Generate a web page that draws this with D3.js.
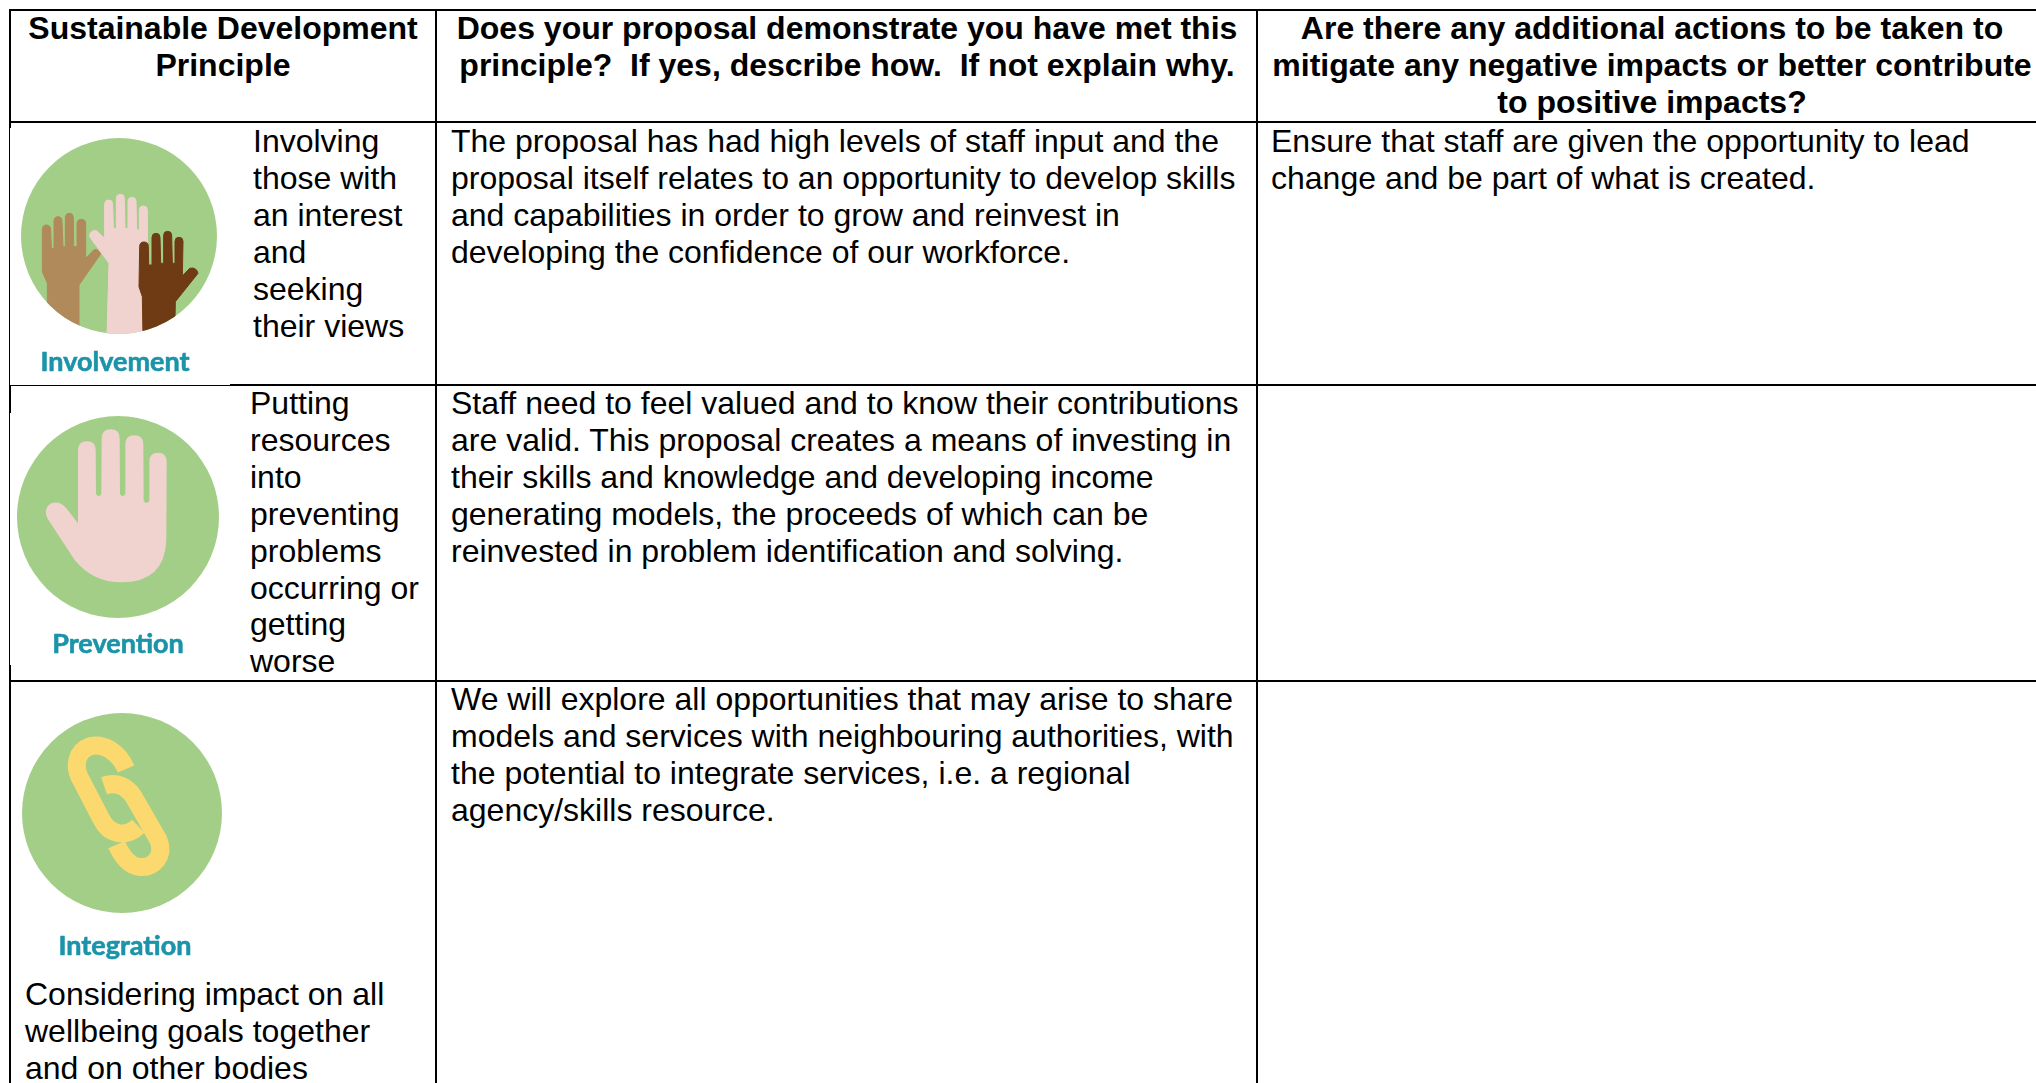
<!DOCTYPE html>
<html>
<head>
<meta charset="utf-8">
<script src="https://cdnjs.cloudflare.com/ajax/libs/d3/7.8.5/d3.min.js"></script>
<style>
html, body { margin: 0; padding: 0; background: #fff; overflow: hidden; }
text { font-family: "Liberation Sans", Arial, sans-serif; font-size: 32px; fill: #000; }
.head { font-weight: bold; }
.label { font-family: Lato, sans-serif; font-weight: 700; font-size: 27px; fill: #1b93a9; stroke: #1b93a9; stroke-width: 0.6px; }
</style>
</head>
<body>
<div id="chart"></div>
<script>
const columns = ["principle", "proposal", "actions"];

const headers = [
    ["Sustainable Development", "Principle"],
    ["Does your proposal demonstrate you have met this", "principle?  If yes, describe how.  If not explain why."],
    ["Are there any additional actions to be taken to", "mitigate any negative impacts or better contribute", "to positive impacts?"]
];

const rowNames = ["involvement", "prevention", "integration"];
const iconLabels = ["Involvement", "Prevention", "Integration"];

const principleText = [
    ["Involving", "those with", "an interest", "and", "seeking", "their views"],
    ["Putting", "resources", "into", "preventing", "problems", "occurring or", "getting", "worse"],
    ["Considering impact on all", "wellbeing goals together", "and on other bodies"]
];

const proposalText = [
    ["The proposal has had high levels of staff input and the", "proposal itself relates to an opportunity to develop skills", "and capabilities in order to grow and reinvest in", "developing the confidence of our workforce."],
    ["Staff need to feel valued and to know their contributions", "are valid. This proposal creates a means of investing in", "their skills and knowledge and developing income", "generating models, the proceeds of which can be", "reinvested in problem identification and solving."],
    ["We will explore all opportunities that may arise to share", "models and services with neighbouring authorities, with", "the potential to integrate services, i.e. a regional", "agency/skills resource."]
];

const actionsText = [
    ["Ensure that staff are given the opportunity to lead", "change and be part of what is created."],
    [],
    []
];

const width = 2036, height = 1083;
const lineH = 36.9;

const svg = d3.select("#chart").append("svg")
    .attr("width", width)
    .attr("height", height)
    .style("display", "block");

// table grid
const colEdge = d3.scaleOrdinal().domain(columns).range([10, 436, 1257]);
const colText = d3.scaleOrdinal().domain(columns).range([0, 451, 1271]);
const rowTop = d3.scaleOrdinal().domain(rowNames).range([122, 385, 681]);
const rowBase = d3.scaleOrdinal().domain(rowNames).range([152, 414, 710]);
const principleX = d3.scaleOrdinal().domain(rowNames).range([253, 250, 25]);
const principleBase = d3.scaleOrdinal().domain(rowNames).range([152, 414, 1005]);
const headCentre = d3.scaleOrdinal().domain(columns).range([223, 847, 1652]);

const grid = svg.append("g").attr("stroke", "#000").attr("stroke-width", 2)
    .attr("shape-rendering", "crispEdges");

grid.append("line").attr("x1", 9).attr("x2", width).attr("y1", 10).attr("y2", 10);
grid.append("line").attr("x1", 9).attr("x2", width).attr("y1", rowTop("involvement")).attr("y2", rowTop("involvement"));
grid.append("line").attr("x1", 230).attr("x2", width).attr("y1", 385).attr("y2", 385);
grid.append("line").attr("x1", 9).attr("x2", 230).attr("y1", 385.5).attr("y2", 385.5).attr("stroke-width", 1);
grid.append("line").attr("x1", 9).attr("x2", width).attr("y1", rowTop("integration")).attr("y2", rowTop("integration"));

grid.selectAll(".vline").data(columns.slice(1)).enter().append("line")
    .attr("class", "vline")
    .attr("x1", d => colEdge(d)).attr("x2", d => colEdge(d))
    .attr("y1", 10).attr("y2", height);

// the pasted icons eat half of the left border in places
grid.selectAll(".edge").data([[10, 128, 2], [128, 385, 1], [385, 413, 2], [413, 665, 1], [665, height, 2]]).enter().append("line")
    .attr("class", "edge")
    .attr("x1", d => d[2] === 2 ? 10 : 9.5).attr("x2", d => d[2] === 2 ? 10 : 9.5)
    .attr("y1", d => d[0]).attr("y2", d => d[1])
    .attr("stroke-width", d => d[2]);

function writeLines(lines, x, base, cls, anchor) {
    svg.append("g").selectAll("text").data(lines).enter().append("text")
        .attr("class", cls)
        .attr("x", x)
        .attr("y", (d, i) => base + i * lineH)
        .attr("text-anchor", anchor || "start")
        .attr("xml:space", "preserve")
        .text(d => d);
}

headers.forEach((h, i) => writeLines(h, headCentre(columns[i]), 39, "head", "middle"));

rowNames.forEach((r, i) => {
    writeLines(principleText[i], principleX(r), principleBase(r), "body");
    writeLines(proposalText[i], colText("proposal"), rowBase(r), "body");
    writeLines(actionsText[i], colText("actions"), rowBase(r), "body");
});

// icons, traced at 3x from the picture
const green = "#a3ce87", tan = "#b08a5b", pink = "#f0d3ce", brown = "#6e3b14", yellow = "#fbd96f";
const icons = svg.append("g").style("filter", "blur(0.6px)");

function icon(name, cx, cy, r, labelX, labelY, draw) {
    const g = icons.append("g").attr("class", name);
    g.append("clipPath").attr("id", "clip-" + name)
        .append("circle").attr("cx", cx).attr("cy", cy).attr("r", r);
    g.append("circle").attr("cx", cx).attr("cy", cy).attr("r", r).attr("fill", green);
    const art = g.append("g").attr("clip-path", `url(#clip-${name})`)
        .append("g").attr("transform", `translate(${cx},${cy}) scale(${1 / 3})`);
    draw(art);
    g.append("text").attr("class", "label")
        .attr("x", labelX).attr("y", labelY)
        .attr("text-anchor", "middle")
        .text(iconLabels[rowNames.indexOf(name)]);
}

icon("involvement", 119, 236, 98, 115, 371, art => {
    const a = art.append("g").attr("transform", "translate(-358,-708)").attr("stroke-width", 3);
    a.append("path").attr("fill", tan).attr("stroke", tan)
        .attr("d", "M143 1010 L143 850 L128 815 L128 690 Q128 675 140 675 Q153 675 153 690 L155 745 L163 745 L163 665 Q163 650 175 650 Q187 650 187 665 L190 740 L197 740 L197 655 Q197 640 209 640 Q221 640 221 655 L222 740 L232 740 L232 672 Q232 658 245 658 Q258 658 258 672 L258 775 L282 750 Q295 745 303 762 L238 855 L238 1010 Z");
    a.append("path").attr("fill", pink).attr("stroke", pink)
        .attr("d", "M322 1010 L328 790 L270 710 Q270 690 290 692 L315 715 L315 612 Q315 600 327 600 Q339 600 339 612 L341 685 L350 685 L350 596 Q350 583 362 583 Q374 583 374 596 L376 685 L385 685 L385 605 Q385 592 397 592 Q409 592 409 605 L411 690 L419 690 L419 630 Q419 618 431 618 Q443 618 443 630 L443 800 L430 1010 Z");
    a.append("path").attr("fill", brown).attr("stroke", brown)
        .attr("d", "M430 1010 L428 890 L418 860 L420 740 Q420 726 433 726 Q446 726 446 740 L447 795 L457 795 L457 712 Q457 700 469 700 Q481 700 481 712 L483 790 L492 790 L492 706 Q492 694 504 694 Q516 694 516 706 L518 790 L526 790 L526 724 Q526 712 538 712 Q550 712 550 724 L548 828 L570 805 Q590 800 595 820 L527 905 L525 1010 Z");
});

icon("prevention", 118, 517, 101, 118, 653, art => {
    art.append("g").attr("transform", "translate(-355,-441)").append("path").attr("fill", pink)
        .attr("d", "M235 460 L235 240 Q235 214 262 214 Q288 214 288 240 L289 372 Q297 385 305 372 L306 205 Q306 178 333 178 Q360 178 360 205 L361 372 Q368 385 377 372 L377 222 Q377 196 404 196 Q431 196 431 222 L432 392 Q440 405 449 392 L449 275 Q449 248 475 248 Q501 248 501 275 L500 510 Q495 637 365 637 Q280 637 225 570 L143 445 Q130 415 155 400 Q180 390 200 415 Z");
});

icon("integration", 122, 813, 100, 125, 955, art => {
    const a = art.append("g").attr("transform", "translate(-366,-400)")
        .attr("fill", "none").attr("stroke", yellow).attr("stroke-width", 54);
    a.append("path").attr("d", "M378 268 C355 215 310 190 270 200 C228 215 222 260 240 295 L305 420 C325 462 375 478 415 440");
    a.append("path").attr("d", "M312 318 C350 305 380 320 400 350 L475 480 C495 530 460 565 420 562 C390 560 365 530 350 495");
});
</script>
</body>
</html>
